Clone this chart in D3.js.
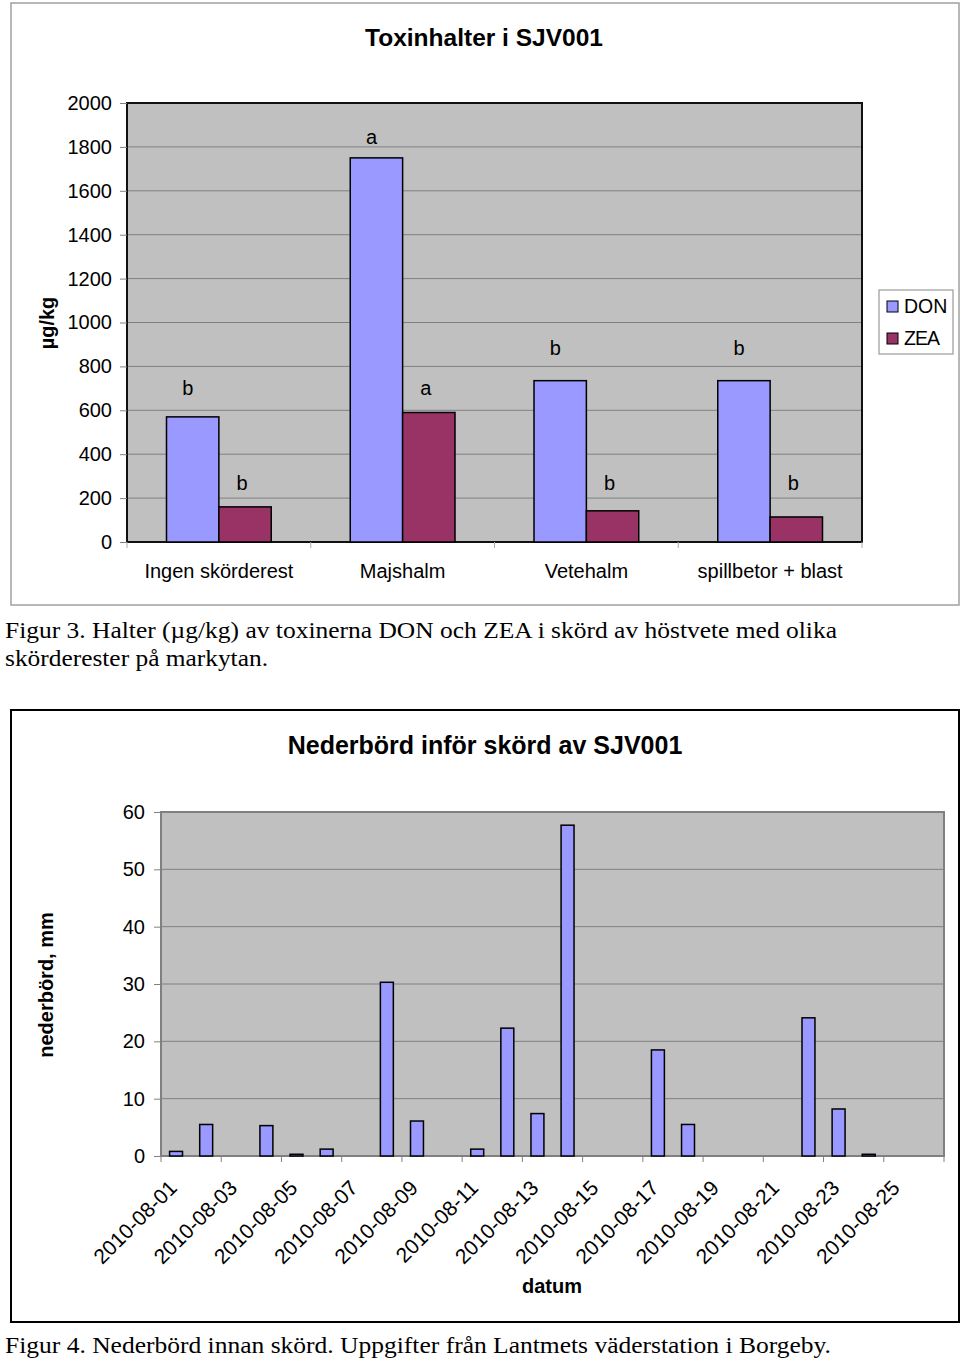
<!DOCTYPE html>
<html>
<head>
<meta charset="utf-8">
<script src="https://cdn.jsdelivr.net/npm/d3@7"></script>
<style>
  body { margin: 0; background: #fff; }
  svg text { font-family: "Liberation Sans", Arial, sans-serif; }
  .caption { font-family: "Liberation Serif", "Times New Roman", serif !important; }
</style>
</head>
<body>
<svg id="chart" width="960" height="1360"></svg>
<script>
// Figur 3 data
const crops = ['Ingen skörderest', 'Majshalm', 'Vetehalm', 'spillbetor + blast'];
const donValues = [570, 1750, 735, 735];
const zeaValues = [160, 590, 142, 114];
const donLetters = ['b', 'a', 'b', 'b'];
const zeaLetters = ['b', 'a', 'b', 'b'];
const donLetterAt = [670, 1813, 852, 852];
const zeaLetterAt = [237, 670, 237, 237];
const toxinTicks = [0, 200, 400, 600, 800, 1000, 1200, 1400, 1600, 1800, 2000];

// Figur 4 data
const dates = ['2010-08-01', '2010-08-02', '2010-08-03', '2010-08-04', '2010-08-05', '2010-08-06',
  '2010-08-07', '2010-08-08', '2010-08-09', '2010-08-10', '2010-08-11', '2010-08-12', '2010-08-13',
  '2010-08-14', '2010-08-15', '2010-08-16', '2010-08-17', '2010-08-18', '2010-08-19', '2010-08-20',
  '2010-08-21', '2010-08-22', '2010-08-23', '2010-08-24', '2010-08-25', '2010-08-26'];
const rain = [0.8, 5.5, 0, 5.3, 0.3, 1.2, 0, 30.3, 6.1, 0, 1.2, 22.3, 7.4, 57.7, 0, 0,
  18.5, 5.5, 0, 0, 0, 24.1, 8.2, 0.3, 0, 0];
const rainTicks = [0, 10, 20, 30, 40, 50, 60];

const svg = d3.select('#chart');
const gridColor = '#808080';

// ---------- Figur 3 ----------
svg.append('rect').attr('x', 11).attr('y', 3).attr('width', 948).attr('height', 602)
  .attr('fill', '#fff').attr('stroke', '#a0a0a0').attr('stroke-width', 1.5);

const t = { left: 127, right: 862, top: 103, bottom: 542 };
const x1 = d3.scaleBand().domain(crops).range([t.left, t.right]).paddingInner(0.43).paddingOuter(0.215);
const xs = d3.scaleBand().domain(['DON', 'ZEA']).range([0, x1.bandwidth()]);
const y1 = d3.scaleLinear().domain([0, 2000]).range([t.bottom, t.top]);

const g1 = svg.append('g');
g1.append('rect').attr('x', t.left).attr('y', t.top).attr('width', t.right - t.left).attr('height', t.bottom - t.top)
  .attr('fill', '#c0c0c0');

g1.append('g').selectAll('line').data(toxinTicks.slice(1, -1)).join('line')
  .attr('x1', t.left).attr('x2', t.right).attr('y1', d => y1(d)).attr('y2', d => y1(d))
  .attr('stroke', gridColor).attr('stroke-width', 1);

g1.append('rect').attr('x', t.left).attr('y', t.top).attr('width', t.right - t.left).attr('height', t.bottom - t.top)
  .attr('fill', 'none').attr('stroke', '#111').attr('stroke-width', 2);

const yAxis1 = g1.append('g').attr('transform', `translate(${t.left},0)`)
  .call(d3.axisLeft(y1).tickValues(toxinTicks).tickFormat(d3.format('d')).tickSize(7).tickPadding(8).tickSizeOuter(0));
yAxis1.select('.domain').remove();
yAxis1.selectAll('line').attr('stroke', gridColor);
yAxis1.selectAll('text').attr('font-size', 20).attr('fill', '#000');

// category ticks on boundaries
const step1 = x1.step();
g1.append('g').selectAll('line').data(d3.range(crops.length + 1)).join('line')
  .attr('x1', i => t.left + i * step1).attr('x2', i => t.left + i * step1)
  .attr('y1', t.bottom).attr('y2', t.bottom + 6).attr('stroke', '#aaa');

g1.append('g').selectAll('text').data(crops).join('text')
  .attr('x', d => x1(d) + x1.bandwidth() / 2).attr('y', 578)
  .attr('text-anchor', 'middle').attr('font-size', 20).text(d => d);

const bars = g1.append('g');
bars.selectAll('rect.don').data(crops).join('rect').attr('class', 'don')
  .attr('x', d => x1(d) + xs('DON')).attr('width', xs.bandwidth())
  .attr('y', (d, i) => y1(donValues[i])).attr('height', (d, i) => y1(0) - y1(donValues[i]))
  .attr('fill', '#9999ff').attr('stroke', '#000').attr('stroke-width', 1.5);
bars.selectAll('rect.zea').data(crops).join('rect').attr('class', 'zea')
  .attr('x', d => x1(d) + xs('ZEA')).attr('width', xs.bandwidth())
  .attr('y', (d, i) => y1(zeaValues[i])).attr('height', (d, i) => y1(0) - y1(zeaValues[i]))
  .attr('fill', '#993366').attr('stroke', '#000').attr('stroke-width', 1.5);

bars.selectAll('text.dl').data(crops).join('text').attr('class', 'dl')
  .attr('x', d => x1(d) + xs('DON') + xs.bandwidth() / 2 - 5).attr('y', (d, i) => y1(donLetterAt[i]))
  .attr('text-anchor', 'middle').attr('font-size', 20).text((d, i) => donLetters[i]);
bars.selectAll('text.zl').data(crops).join('text').attr('class', 'zl')
  .attr('x', d => x1(d) + xs('ZEA') + xs.bandwidth() / 2 - 3).attr('y', (d, i) => y1(zeaLetterAt[i]))
  .attr('text-anchor', 'middle').attr('font-size', 20).text((d, i) => zeaLetters[i]);

svg.append('text').attr('x', 484).attr('y', 46).attr('text-anchor', 'middle')
  .attr('font-size', 24.5).attr('font-weight', 'bold').text('Toxinhalter i SJV001');
svg.append('text').attr('transform', 'translate(54,323) rotate(-90)').attr('text-anchor', 'middle')
  .attr('font-size', 20).attr('font-weight', 'bold').text('µg/kg');

// legend
const leg = svg.append('g').attr('transform', 'translate(879,290)');
leg.append('rect').attr('width', 74).attr('height', 64).attr('fill', '#fff')
  .attr('stroke', '#999').attr('stroke-width', 1.2);
[['DON', '#9999ff'], ['ZEA', '#993366']].forEach(([name, col], i) => {
  leg.append('rect').attr('x', 8).attr('y', 11 + i * 32).attr('width', 11).attr('height', 11)
    .attr('fill', col).attr('stroke', '#000').attr('stroke-width', 1);
  leg.append('text').attr('x', 25).attr('y', 23 + i * 32).attr('font-size', 19.5)
    .attr('letter-spacing', i ? -1 : 0).text(name);
});

svg.append('text').attr('class', 'caption').attr('x', 5).attr('y', 638).attr('font-size', 23)
  .attr('textLength', 832).attr('lengthAdjust', 'spacingAndGlyphs')
  .text('Figur 3. Halter (µg/kg) av toxinerna DON och ZEA i skörd av höstvete med olika');
svg.append('text').attr('class', 'caption').attr('x', 5).attr('y', 666).attr('font-size', 23)
  .attr('textLength', 263).attr('lengthAdjust', 'spacingAndGlyphs')
  .text('skörderester på markytan.');

// ---------- Figur 4 ----------
svg.append('rect').attr('x', 11).attr('y', 710).attr('width', 948).attr('height', 612)
  .attr('fill', '#fff').attr('stroke', '#000').attr('stroke-width', 2);

const b = { left: 161, right: 944, top: 812, bottom: 1156 };
const x2 = d3.scaleBand().domain(dates).range([b.left, b.right]).paddingInner(0.57).paddingOuter(0.285);
const y2 = d3.scaleLinear().domain([0, 60]).range([b.bottom, b.top]);

const g2 = svg.append('g');
g2.append('rect').attr('x', b.left).attr('y', b.top).attr('width', b.right - b.left).attr('height', b.bottom - b.top)
  .attr('fill', '#c0c0c0');
g2.append('g').selectAll('line').data(rainTicks.slice(1, -1)).join('line')
  .attr('x1', b.left).attr('x2', b.right).attr('y1', d => y2(d)).attr('y2', d => y2(d))
  .attr('stroke', gridColor).attr('stroke-width', 1);
g2.append('rect').attr('x', b.left).attr('y', b.top).attr('width', b.right - b.left).attr('height', b.bottom - b.top)
  .attr('fill', 'none').attr('stroke', gridColor).attr('stroke-width', 2);

const yAxis2 = g2.append('g').attr('transform', `translate(${b.left},0)`)
  .call(d3.axisLeft(y2).tickValues(rainTicks).tickSize(7).tickPadding(9).tickSizeOuter(0));
yAxis2.select('.domain').remove();
yAxis2.selectAll('line').attr('stroke', gridColor);
yAxis2.selectAll('text').attr('font-size', 20).attr('fill', '#000');

const step2 = x2.step();
g2.append('g').selectAll('line').data(d3.range(0, dates.length + 1, 2)).join('line')
  .attr('x1', i => b.left + i * step2).attr('x2', i => b.left + i * step2)
  .attr('y1', b.bottom).attr('y2', b.bottom + 6).attr('stroke', gridColor);

g2.append('g').selectAll('text').data(dates.filter((d, i) => i % 2 === 0)).join('text')
  .attr('transform', d => `translate(${x2(d) + x2.bandwidth() / 2 - 3},1184) rotate(-45)`)
  .attr('text-anchor', 'end').attr('dy', '0.35em').attr('font-size', 21).text(d => d);

g2.append('g').selectAll('rect').data(dates.filter((d, i) => rain[i] > 0)).join('rect')
  .attr('x', d => x2(d)).attr('width', x2.bandwidth())
  .attr('y', d => y2(rain[dates.indexOf(d)]))
  .attr('height', d => y2(0) - y2(rain[dates.indexOf(d)]))
  .attr('fill', '#9999ff').attr('stroke', '#000').attr('stroke-width', 1.5);

svg.append('text').attr('x', 485).attr('y', 754).attr('text-anchor', 'middle')
  .attr('font-size', 25).attr('font-weight', 'bold').text('Nederbörd inför skörd av SJV001');
svg.append('text').attr('transform', 'translate(53,985) rotate(-90)').attr('text-anchor', 'middle')
  .attr('font-size', 20).attr('font-weight', 'bold').text('nederbörd, mm');
svg.append('text').attr('x', 552).attr('y', 1293).attr('text-anchor', 'middle')
  .attr('font-size', 20).attr('font-weight', 'bold').text('datum');

svg.append('text').attr('class', 'caption').attr('x', 5).attr('y', 1353).attr('font-size', 23)
  .attr('textLength', 826).attr('lengthAdjust', 'spacingAndGlyphs')
  .text('Figur 4. Nederbörd innan skörd. Uppgifter från Lantmets väderstation i Borgeby.');
</script>
</body>
</html>
